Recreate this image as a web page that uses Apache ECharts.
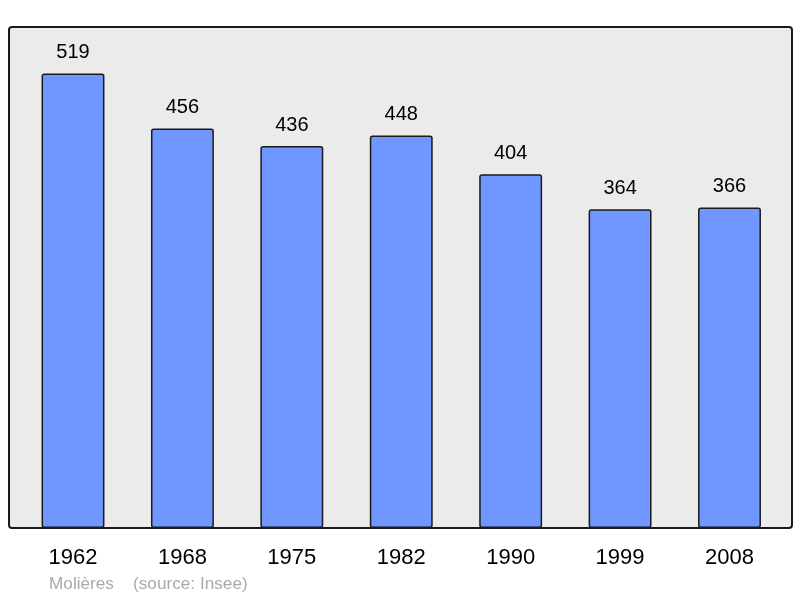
<!DOCTYPE html>
<html><head><meta charset="utf-8">
<script src="https://cdn.jsdelivr.net/npm/echarts@6/dist/echarts.min.js"></script>
<style>html,body{margin:0;padding:0;background:#fff}#c{width:800px;height:598px}</style>
</head><body><div id="c"></div>
<script>
const categories = ['1962','1968','1975','1982','1990','1999','2008'];
const population = [519,456,436,448,404,364,366];
const sourceText = 'Molières    (source: Insee)';

const chart = echarts.init(document.getElementById('c'), null, {renderer:'canvas'});
chart.setOption({
  animation:false,
  backgroundColor:'#ffffff',
  graphic:[
    {type:'rect', z:-10, shape:{x:9,y:27,width:783,height:501,r:3},
     style:{fill:'#ebebeb',stroke:'#1a1a1a',lineWidth:2}},
    {type:'text', left:49, top:576, style:{text:sourceText, fill:'#aaaaaa', font:'17.2px "Liberation Sans", Arial, sans-serif'}}
  ],
  grid:{left:18.3,right:15.8,top:27,bottom:70,containLabel:false},
  xAxis:{type:'category',data:categories,
    axisLine:{show:false},axisTick:{show:false},
    axisLabel:{color:'#000',fontSize:22,fontFamily:'"Liberation Sans", Arial, sans-serif',margin:19}},
  yAxis:{type:'value',min:0,max:572,show:false,splitLine:{show:false}},
  series:[{type:'bar',data:population,barWidth:'57.5%',
    itemStyle:{color:'#7096ff',borderColor:'#1a1a1a',borderWidth:1.5,borderRadius:2},
    label:{show:true,position:'top',distance:11,color:'#000',fontSize:20,fontFamily:'"Liberation Sans", Arial, sans-serif'}}]
});
</script></body></html>
